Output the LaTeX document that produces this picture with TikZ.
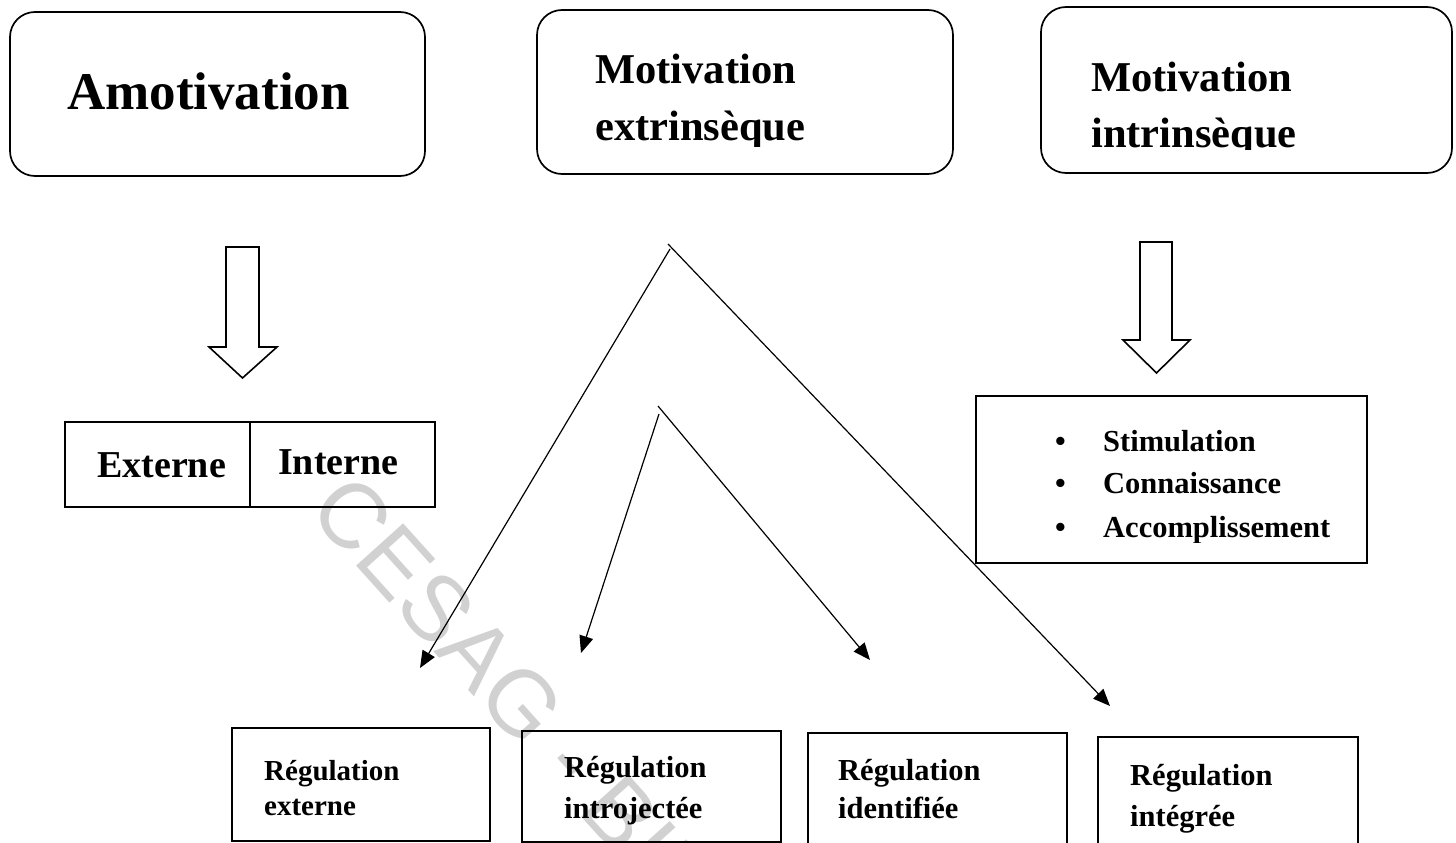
\documentclass[tikz,border=0pt]{standalone}
\usepackage{fontspec}
\setmainfont{Liberation Serif}
\setsansfont{Liberation Sans}
\usetikzlibrary{arrows.meta}

\begin{document}
\begin{tikzpicture}[x=1pt,y=-1pt,
  roundbox/.style={draw, line width=1.7pt, rounded corners=25pt, inner sep=0pt},
  plainbox/.style={draw, line width=2pt, inner sep=0pt},
  txt/.style={inner sep=0pt, anchor=base west},
  huge/.style={txt, font=\bfseries\fontsize{53}{60}\selectfont},
  large/.style={txt, font=\bfseries\fontsize{42.5}{50}\selectfont},
  medium/.style={txt, font=\bfseries\fontsize{38}{44}\selectfont},
  small/.style={txt, font=\bfseries\fontsize{30.5}{36}\selectfont},
  hollow/.style={draw, line width=1.6pt, fill=white, line join=miter},
  thinarrow/.style={draw, line width=1.2pt, -{Triangle[length=17pt,width=14pt]}}
]
\useasboundingbox (0,0) rectangle (1456,843);

% watermark
\node[rotate=-48, anchor=west, inner sep=0pt, text=black!18,
      font=\sffamily\fontsize{92}{92}\selectfont] (wm) at (330,490) {CESAG - BIB};

% top rounded boxes
\node[roundbox, minimum width=415pt, minimum height=164pt] (amo) at (217.5,94) {};
\node[roundbox, minimum width=416pt, minimum height=164pt] (ext) at (745,92) {};
\node[roundbox, minimum width=411pt, minimum height=166pt] (int) at (1246.5,90) {};

\node[huge] (tamo) at (67,110) {Amotivation};
\node[large] (text1) at (595,83) {Motivation};
\begin{scope}
  \clip (537,0) rectangle (953,146);
  \node[large] (text2) at (595,140) {extrinsèque};
\end{scope}
\node[large] (tint1) at (1091,92) {Motivation};
\begin{scope}
  \clip (1041,0) rectangle (1453,149);
  \node[large] (tint2) at (1091,147) {intrinsèque};
\end{scope}

% hollow block arrows
\draw[hollow] (226,247) -- (259,247) -- (259,347) -- (277,347) -- (242.5,378)
  -- (209,347) -- (226,347) -- cycle;
\draw[hollow] (1140,242) -- (1172,242) -- (1172,340) -- (1190,340) -- (1156.5,373)
  -- (1123,340) -- (1140,340) -- cycle;

% amotivation types
\node[plainbox, minimum width=185pt, minimum height=85pt] (exte) at (157.5,464.5) {};
\node[plainbox, minimum width=185pt, minimum height=85pt] (inte) at (342.5,464.5) {};
\node[medium] (texte) at (97,477) {Externe};
\node[medium] (tinte) at (278,474) {Interne};

% intrinsic motivation list
\node[plainbox, minimum width=391pt, minimum height=167pt] (list) at (1171.5,479.5) {};
\node[small] (b1) at (1055,451) {•};
\node[small] (b2) at (1055,493) {•};
\node[small] (b3) at (1055,537) {•};
\node[small] (l1) at (1103,451) {Stimulation};
\node[small] (l2) at (1103,493) {Connaissance};
\begin{scope}
  \clip (976,396) rectangle (1367,542);
  \node[small] (l3) at (1103,537) {Accomplissement};
\end{scope}

% regulation boxes
\node[plainbox, minimum width=258pt, minimum height=113pt] (rA) at (361,784.5) {};
\node[plainbox, minimum width=259pt, minimum height=111pt] (rB) at (651.5,786.5) {};
\node[plainbox, minimum width=259pt, minimum height=127pt] (rC) at (937.5,796.5) {};
\node[plainbox, minimum width=260pt, minimum height=123pt] (rD) at (1228,798.5) {};

\node[small, font=\bfseries\fontsize{29}{34}\selectfont] (tA1) at (264,780) {Régulation};
\node[small, font=\bfseries\fontsize{29}{34}\selectfont] (tA2) at (264,815) {externe};
\node[small] (tB1) at (564,777) {Régulation};
\node[small] (tB2) at (564,818) {introjectée};
\node[small] (tC1) at (838,780) {Régulation};
\node[small] (tC2) at (838,818) {identifiée};
\node[small] (tD1) at (1130,785) {Régulation};
\begin{scope}
  \clip (1098,737) rectangle (1358,832);
  \node[small] (tD2) at (1130,826) {intégrée};
\end{scope}

% branching arrows from extrinsic motivation
\coordinate (p1) at (670,249);
\coordinate (p2) at (668,244);
\coordinate (q1) at (659,414);
\coordinate (q2) at (658,406);
\coordinate (tipA) at (420,668);
\coordinate (tipB) at (581,653);
\coordinate (tipC) at (870,660);
\coordinate (tipD) at (1110,706);

\draw[thinarrow] (p1) -- (tipA);
\draw[thinarrow] (p2) -- (tipD);
\draw[thinarrow] (q1) -- (tipB);
\draw[thinarrow] (q2) -- (tipC);
\end{tikzpicture}
\end{document}
